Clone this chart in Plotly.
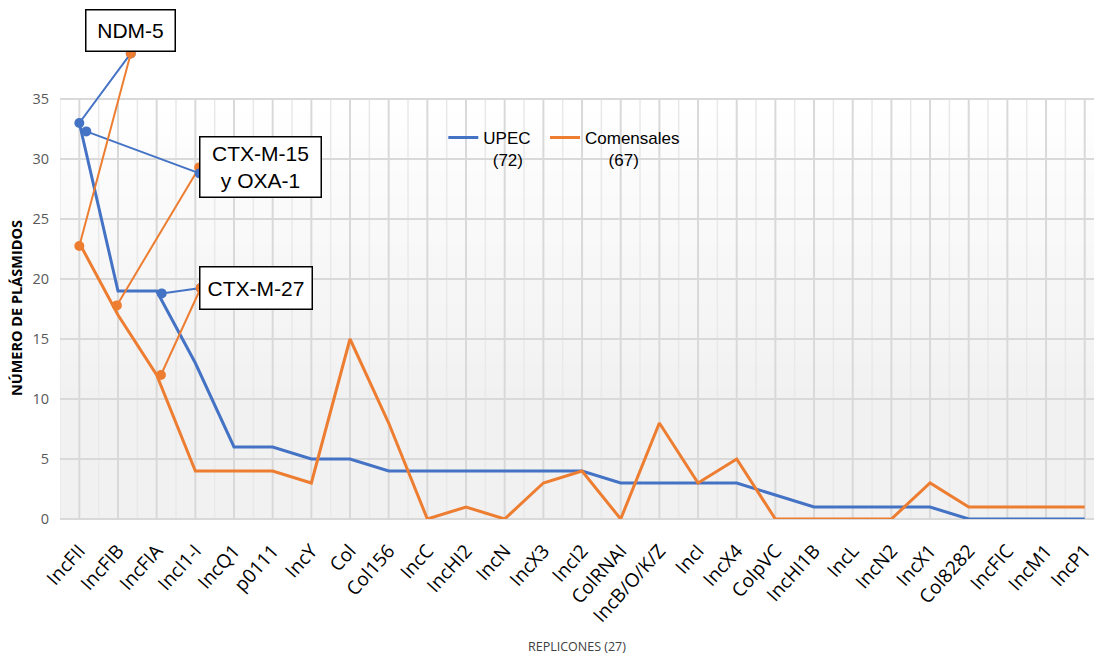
import plotly.graph_objects as go

# Replicon categories on the x axis
replicones = [
    "IncFII", "IncFIB", "IncFIA", "IncI1-I", "IncQ1", "p0111", "IncY", "Col",
    "Col156", "IncC", "IncHI2", "IncN", "IncX3", "IncI2", "ColRNAI",
    "IncB/O/K/Z", "IncI", "IncX4", "ColpVC", "IncHI1B", "IncL", "IncN2",
    "IncX1", "Col8282", "IncFIC", "IncM1", "IncP1",
]

# Number of plasmids per replicon
upec = [33, 19, 19, 13, 6, 6, 5, 5, 4, 4, 4, 4, 4, 4, 3, 3, 3, 3, 2, 1, 1, 1, 1, 0, 0, 0, 0]
comensales = [23, 17, 12, 4, 4, 4, 3, 15, 8, 0, 1, 0, 3, 4, 0, 8, 3, 5, 0, 0, 0, 0, 3, 1, 1, 1, 1]

# Callout connectors (x in category units, y in plasmid counts); None splits segments
upec_link_x = [0.0, 1.33, None, 0.18, 3.11, None, 2.13, 3.14]
upec_link_y = [33.0, 38.8, None, 32.3, 28.8, None, 18.8, 19.25]
com_link_ctx15_x = [0.97, 3.1]
com_link_ctx15_y = [17.8, 29.3]
com_link_x = [0.0, 1.33, None, 2.11, 3.14]
com_link_y = [22.75, 38.8, None, 12.0, 19.25]

y_ticks = [0, 5, 10, 15, 20, 25, 30, 35]

BLUE = "#4472C4"
ORANGE = "#ED7D31"
SANS = "Liberation Sans, Arial, sans-serif"
BODY = "Open Sans, Noto Sans, sans-serif"
NB = "\u00a0"

x_idx = list(range(len(replicones)))
X_MIN, X_MAX = -0.5, 26.24
Y_TOP = 43.25

fig = go.Figure()

fig.add_trace(go.Scatter(
    x=x_idx, y=upec, mode="lines", name="UPEC" + NB * 2 + "<br>" + NB * 2 + "(72)",
    line=dict(color=BLUE, width=3), hoverinfo="skip",
))
fig.add_trace(go.Scatter(
    x=x_idx, y=comensales, mode="lines",
    name="Comensales<br>" + NB * 5 + "(67)",
    line=dict(color=ORANGE, width=3), hoverinfo="skip",
))
fig.add_trace(go.Scatter(
    x=com_link_ctx15_x, y=com_link_ctx15_y, mode="lines+markers", showlegend=False,
    line=dict(color=ORANGE, width=2), marker=dict(color=ORANGE, size=10),
    hoverinfo="skip",
))
fig.add_trace(go.Scatter(
    x=upec_link_x, y=upec_link_y, mode="lines+markers", showlegend=False,
    line=dict(color=BLUE, width=2), marker=dict(color=BLUE, size=10),
    hoverinfo="skip", connectgaps=False,
))
fig.add_trace(go.Scatter(
    x=com_link_x, y=com_link_y, mode="lines+markers", showlegend=False,
    line=dict(color=ORANGE, width=2), marker=dict(color=ORANGE, size=10),
    hoverinfo="skip", connectgaps=False,
))

shapes = []
# soft vertical gradient behind the plotting band (white at top, light grey below)
for k in range(35):
    t = min(max((35 - (k + 0.5)) / 25.0, 0.0), 1.0)
    g = int(round(255 - 14 * t))
    shapes.append(dict(
        type="rect", xref="x", yref="y", x0=X_MIN, x1=X_MAX, y0=k, y1=k + 1,
        fillcolor=f"rgb({g},{g},{g})", line=dict(width=0), layer="below",
    ))
# vertical grid: strong at each category, faint between them
v = X_MIN
while v <= X_MAX + 1e-9:
    major = abs(v - round(v)) < 1e-9
    shapes.append(dict(
        type="line", xref="x", yref="y", x0=v, x1=v, y0=0, y1=35,
        line=dict(color="#d9d9d9" if major else "#e9e9e9", width=2 if major else 1.5),
        layer="below",
    ))
    v += 0.5

box_font = dict(family=SANS, size=21, color="black")
annotations = [
    dict(text="NDM-5", x=1.33, y=40.67, xref="x", yref="y", showarrow=False,
         font=box_font, bgcolor="white", bordercolor="black", borderwidth=1.5,
         borderpad=0, width=88, height=40),
    dict(text="CTX-M-15<br>y OXA-1", x=4.69, y=29.33, xref="x", yref="y", showarrow=False,
         font=box_font, bgcolor="white", bordercolor="black", borderwidth=1.5,
         borderpad=0, width=120, height=59),
    dict(text="CTX-M-27", x=4.57, y=19.21, xref="x", yref="y", showarrow=False,
         font=box_font, bgcolor="white", bordercolor="black", borderwidth=1.5,
         borderpad=0, width=111, height=41),
    dict(text="<b>NÚMERO DE PLÁSMIDOS</b>", x=-0.0415, y=0.4066, xref="paper", yref="paper",
         textangle=-90, showarrow=False, xanchor="center", yanchor="middle",
         font=dict(family=BODY, size=14.5, color="black")),
    dict(text="REPLICONES (27)", x=0.5, y=-0.2466, xref="paper", yref="paper",
         showarrow=False, xanchor="center", yanchor="middle",
         font=dict(family=BODY, size=12.5, color="#404040")),
]

fig.update_layout(
    width=1096, height=660,
    margin=dict(l=60, r=0, t=0, b=141, pad=0),
    paper_bgcolor="white", plot_bgcolor="white",
    shapes=shapes, annotations=annotations,
    showlegend=True,
    legend=dict(
        orientation="h", x=0.3707, y=0.769, xanchor="left", yanchor="top",
        valign="top", bgcolor="rgba(0,0,0,0)", borderwidth=0,
        font=dict(family=SANS, size=17, color="black"),
    ),
    xaxis=dict(
        range=[X_MIN, X_MAX], tickmode="array", tickvals=x_idx, ticktext=replicones,
        tickangle=-48, showgrid=False, zeroline=False, showline=False, ticks="",
        tickfont=dict(family=BODY, size=19, color="black"), ticklabelstandoff=16,
        ticklabeloverflow="allow",
    ),
    yaxis=dict(
        range=[0, Y_TOP], tickmode="array", tickvals=y_ticks, showgrid=True,
        gridcolor="#d9d9d9", gridwidth=2, zeroline=True, zerolinecolor="#d9d9d9",
        zerolinewidth=2, showline=False, ticks="",
        tickfont=dict(family=BODY, size=14.5, color="#595959"), ticklabelstandoff=10,
    ),
)

fig.write_html("out.html")
